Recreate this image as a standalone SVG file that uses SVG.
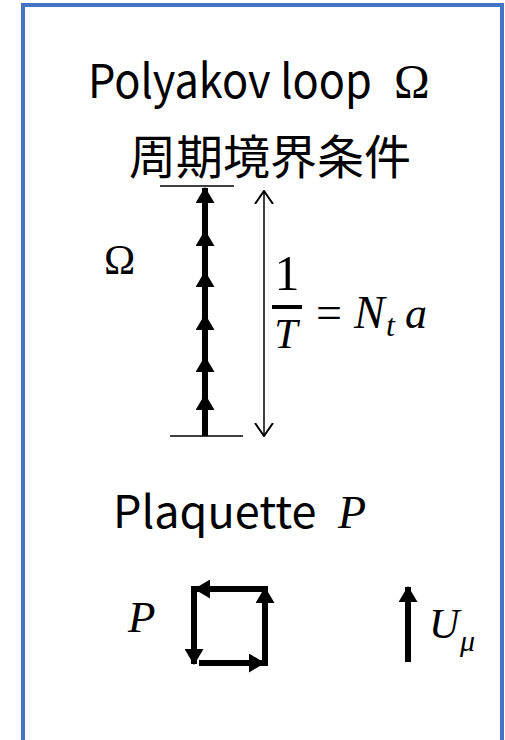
<svg xmlns="http://www.w3.org/2000/svg" width="505" height="740" viewBox="0 0 505 740">
<style>
.t{font-family:"Noto Sans CJK JP","Noto Sans",sans-serif;fill:#000}
.m{font-family:"Liberation Serif",serif;font-style:italic;fill:#000}
.r{font-family:"Liberation Serif",serif;font-style:normal;fill:#000}
.thin{stroke:#000;stroke-width:1.5;fill:none}
.thick{stroke:#000;stroke-width:6;fill:none}
</style>
<defs>
<marker id="ah" viewBox="0 0 16 19" refX="15" refY="9.5" markerWidth="16" markerHeight="19" orient="auto" markerUnits="userSpaceOnUse">
<path d="M0,0 L16,9.5 L0,19 Z" fill="#000"/>
</marker>
<marker id="open" viewBox="0 0 14 20" refX="13" refY="10" markerWidth="14" markerHeight="20" orient="auto-start-reverse" markerUnits="userSpaceOnUse">
<path d="M0,1 L13,10 L0,19" fill="none" stroke="#000" stroke-width="2"/>
</marker>
</defs>
<rect x="23" y="5" width="479" height="760" fill="#fff" stroke="#4472C4" stroke-width="4"/>
<g id="title">
<text class="t" x="88" y="98" font-size="47" textLength="284" lengthAdjust="spacingAndGlyphs">Polyakov loop</text>
<text class="r" x="394" y="98" font-size="48">Ω</text>
<text class="t" x="270" y="174" font-size="47" text-anchor="middle">周期境界条件</text>
</g>
<g id="polyakov">
<line class="thin" x1="160" y1="186" x2="234" y2="186"/>
<line class="thin" x1="170" y1="436" x2="243" y2="436"/>
<text class="r" x="104" y="274" font-size="42">Ω</text>
</g>
<g id="connectors">
<line class="thick" x1="205" y1="436" x2="205" y2="395" marker-end="url(#ah)"/>
<line class="thick" x1="205" y1="395" x2="205" y2="357" marker-end="url(#ah)"/>
<line class="thick" x1="205" y1="357" x2="205" y2="315" marker-end="url(#ah)"/>
<line class="thick" x1="205" y1="315" x2="205" y2="272" marker-end="url(#ah)"/>
<line class="thick" x1="205" y1="272" x2="205" y2="231" marker-end="url(#ah)"/>
<line class="thick" x1="205" y1="231" x2="205" y2="188" marker-end="url(#ah)"/>
<line class="thin" x1="264" y1="191" x2="264" y2="436" marker-start="url(#open)" marker-end="url(#open)"/>
<line class="thick" x1="268" y1="589" x2="195" y2="589" marker-end="url(#ah)"/>
<line class="thick" x1="194" y1="586" x2="194" y2="664" marker-end="url(#ah)"/>
<line class="thick" x1="199" y1="663" x2="264" y2="663" marker-end="url(#ah)"/>
<line class="thick" x1="265" y1="666" x2="265" y2="588" marker-end="url(#ah)"/>
<line class="thick" x1="408" y1="662" x2="408" y2="587" marker-end="url(#ah)"/>
</g>
<g id="formula">
<text class="r" x="287" y="290" font-size="50" text-anchor="middle">1</text>
<line x1="272" y1="307" x2="302" y2="307" stroke="#000" stroke-width="4"/>
<text class="m" x="286" y="348" font-size="42" text-anchor="middle">T</text>
<text class="r" x="316" y="328" font-size="46">=</text>
<text class="m" x="354" y="328" font-size="46">N</text>
<text class="m" x="386" y="336" font-size="32">t</text>
<text class="m" x="405" y="328" font-size="44">a</text>
</g>
<g id="plaquette">
<text class="t" x="113" y="528" font-size="45">Plaquette</text>
<text class="m" x="338" y="528" font-size="46">P</text>
<text class="m" x="128" y="632" font-size="45">P</text>
</g>
<g id="link">
<text class="m" x="429" y="638" font-size="42">U</text>
<text class="m" x="460" y="651" font-size="30">μ</text>
</g>
</svg>
